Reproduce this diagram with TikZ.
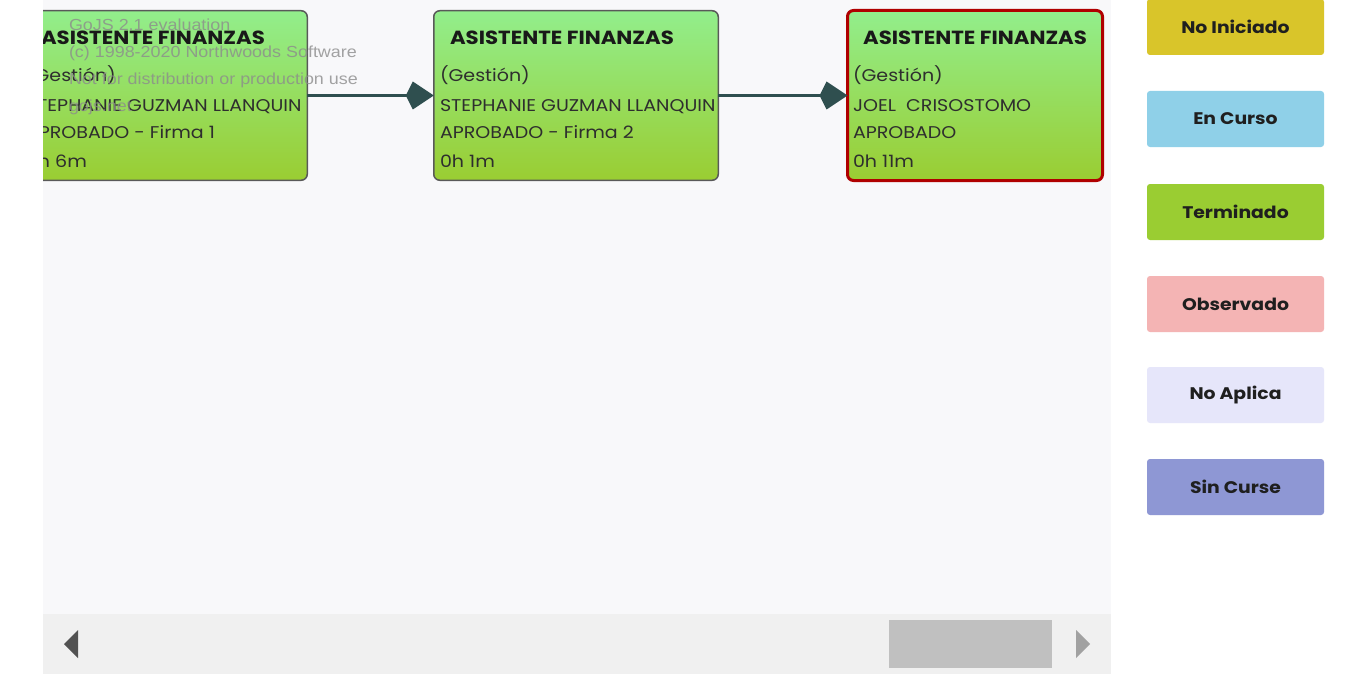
\documentclass[tikz,border=0pt]{standalone}
\usepackage{fontspec}
\setmainfont{Poppins}[FakeStretch=1.12]
\newfontfamily\markfont{Liberation Sans}[FakeStretch=1.12]
\usetikzlibrary{arrows.meta}
\definecolor{canvas}{HTML}{F8F8FA}
\definecolor{scrollbg}{HTML}{F0F0F0}
\definecolor{thumb}{HTML}{C0C0C0}
\definecolor{linkcol}{HTML}{2F4F4F}
\definecolor{greentop}{HTML}{92EE8C}
\definecolor{greenbot}{HTML}{9ACD32}
\definecolor{redline}{HTML}{B00000}
\definecolor{noinic}{HTML}{D9C52A}
\definecolor{encurso}{HTML}{8FD0E8}
\definecolor{termin}{HTML}{9ACD32}
\definecolor{observ}{HTML}{F4B4B4}
\definecolor{noaplica}{HTML}{E6E6FA}
\definecolor{sincurse}{HTML}{8E97D4}
\tikzset{
    every node/.style={inner sep=0pt, outer sep=0pt}
}
\tikzset{
    task/.style={rectangle, rounded corners=6pt, draw=black!65, line width=1.5pt,
    	top color=greentop, bottom color=greenbot, minimum width=284.5pt,
    	minimum height=169.5pt},
    done/.style={task, draw=redline, line width=3pt, minimum width=255pt,
    	minimum height=170pt},
    title/.style={font=\fontsize{19}{22}\selectfont\bfseries, text=black!90},
    info/.style={font=\fontsize{17}{20}\selectfont, text=black!82, anchor=base west},
    watermark/.style={font=\markfont\fontsize{16}{19}\selectfont, text=black!45,
    	opacity=.8, anchor=west},
    state/.style={rectangle, rounded corners=3pt, minimum width=177pt,
    	minimum height=56pt, font=\fontsize{16.8}{19}\selectfont\bfseries,
    	text=black!88},
    link/.style={draw=linkcol, line width=3pt,
    	-{Kite[length=28pt, width=28pt, inset=7pt]}}
}

\begin{document}
\begin{tikzpicture}[x=1pt, y=-1pt]
	\useasboundingbox (0,0) rectangle (1348,674);
	\fill[white] (0,0) rectangle (1348,674);
	\fill[canvas] (43,0) rectangle (1111,614);
	\fill[scrollbg] (43,614) rectangle (1111,674);
	\fill[thumb] (889,620) rectangle (1052,668);
	\fill[black!68] (78,630) -- (78,658) -- (64,644) -- cycle;
	\fill[black!37] (1076,630) -- (1076,658) -- (1090,644) -- cycle;

	\begin{scope}
	\clip (43,0) rectangle (1111,614);
	\node[task] (1) at (165,95.5) {};
	\node[task] (2) at (576,95.5) {};
	\node[done] (3) at (975,95.5) {};

	\draw[link] (1) -- (2);
	\draw[link] (2) -- (3);

	\node[title] (1t) at (153,38) {ASISTENTE FINANZAS};
	\node[info] (1a) at (26,82) {(Gestión)};
	\node[info] (1b) at (26,111) {STEPHANIE GUZMAN LLANQUIN};
	\node[info] (1c) at (26,139) {APROBADO - Firma 1};
	\node[info] (1d) at (26,167) {0h 6m};

	\node[title] (2t) at (562,38) {ASISTENTE FINANZAS};
	\node[info] (2a) at (440,82) {(Gestión)};
	\node[info] (2b) at (440,111) {STEPHANIE GUZMAN LLANQUIN};
	\node[info] (2c) at (440,139) {APROBADO - Firma 2};
	\node[info] (2d) at (440,167) {0h 1m};

	\node[title] (3t) at (975,38) {ASISTENTE FINANZAS};
	\node[info] (3a) at (853,82) {(Gestión)};
	\node[info] (3b) at (853,111) {JOEL\ \ CRISOSTOMO};
	\node[info] (3c) at (853,139) {APROBADO};
	\node[info] (3d) at (853,167) {0h 11m};

	% evaluation watermark
	\node[watermark] (w1) at (69,25) {GoJS 2.1 evaluation};
	\node[watermark] (w2) at (69,53) {(c) 1998-2020 Northwoods Software};
	\node[watermark] (w3) at (69,80) {Not for distribution or production use};
	\node[watermark] (w4) at (69,107) {gojs.net};
	\end{scope}

	\node[state, fill=noinic] (a) at (1235.5,27) {No Iniciado};
	\node[state, fill=encurso] (b) at (1235.5,119) {En Curso};
	\node[state, fill=termin] (c) at (1235.5,212) {Terminado};
	\node[state, fill=observ] (d) at (1235.5,304) {Observado};
	\node[state, fill=noaplica] (e) at (1235.5,395) {No Aplica};
	\node[state, fill=sincurse] (f) at (1235.5,487) {Sin Curse};
\end{tikzpicture}
\end{document}
